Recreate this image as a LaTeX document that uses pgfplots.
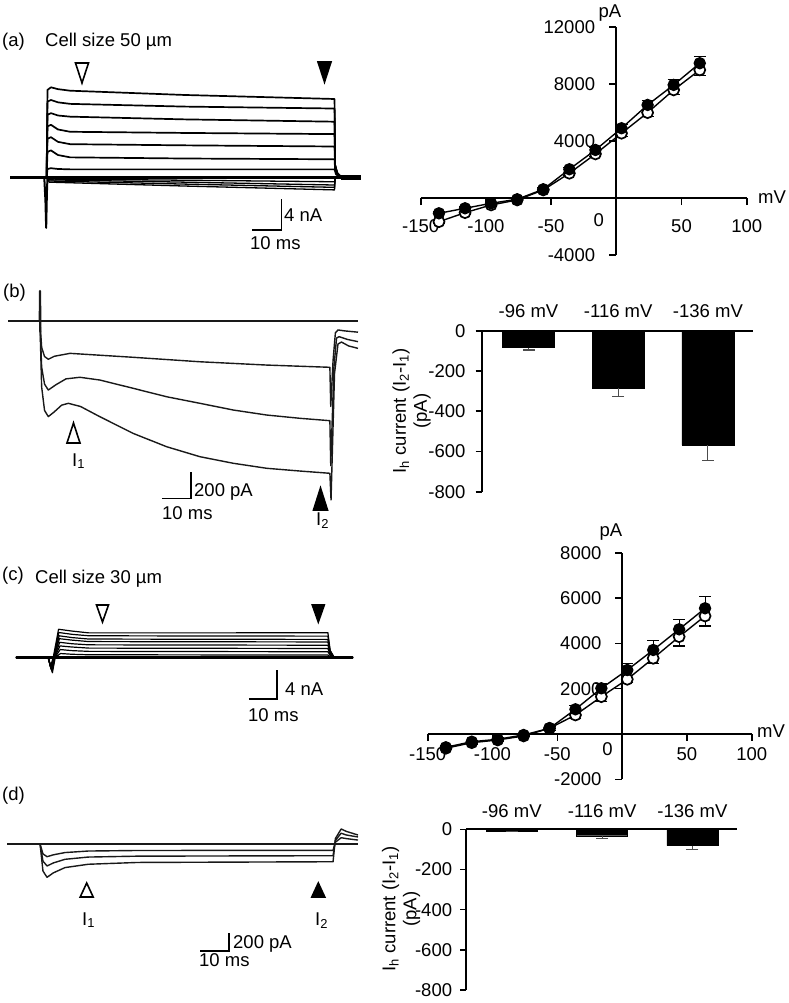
\documentclass[border=0pt]{standalone}
\usepackage{fontspec}
\setmainfont{Liberation Sans}
\usepackage{pgfplots}
\pgfplotsset{compat=1.18}
\newcommand{\fs}{\fontsize{18.5}{21}\selectfont}
\pgfplotsset{
  trc/.style={hide axis, scale only axis, clip=false, anchor=south west},
  tr/.style={black, line width=1.7pt, no markers, line join=round},
  trb/.style={black!90, line width=1.4pt, no markers, line join=round},
  sbar/.style={black, line width=1.5pt, no markers},
  iv/.style={scale only axis, clip=false, anchor=south west,
    axis lines=middle, axis line style={-, line width=1.8pt},
    tick style={black, line width=1.6pt}, tick align=outside, major tick length=7pt,
    xmin=-150, xmax=100, scaled ticks=false,
    xtick={-150,-100,-50,50,100}, xticklabels={-150,-100,-50,50,100},
    tick label style={font=\fs},
  },
  ivopen/.style={black, line width=1.4pt, mark=*, mark size=5.5pt,
    mark options={fill=white, draw=black, line width=1.7pt},
    error bars/.cd, y dir=minus, y explicit,
    error bar style={line width=1.1pt},
    error mark options={rotate=90, mark size=6pt, line width=1.1pt}},
  ivfill/.style={black, line width=1.4pt, mark=*, mark size=5.5pt,
    mark options={fill=black, draw=black},
    error bars/.cd, y dir=plus, y explicit,
    error bar style={line width=1.1pt},
    error mark options={rotate=90, mark size=6pt, line width=1.1pt}},
  bars/.style={scale only axis, clip=false, anchor=south west,
    axis x line=top, axis y line=left, axis line style={-, line width=1.8pt},
    ymin=-800, ymax=0, scaled ticks=false,
    xtick={1,2,3}, xticklabels={-96 mV,-116 mV,-136 mV},
    xtick style={draw=none},
    ytick={-800,-600,-400,-200,0}, yticklabels={-800,-600,-400,-200,0},
    tick style={black, line width=1.6pt}, tick align=outside, major tick length=6pt,
    tick label style={font=\fs}, ybar},
  hbar/.style={fill=black, draw=black,
    error bars/.cd, y dir=minus, y explicit,
    error bar style={line width=1.1pt, black!70},
    error mark options={rotate=90, mark size=6pt, line width=1.1pt, black!70}},
}
\begin{document}
\begin{tikzpicture}[font=\fs]
\path[use as bounding box] (0,0) rectangle (788pt,-1003pt);

% ---------- (a) traces, large cell ----------
\begin{axis}[trc, at={(10pt,-231.75pt)}, width=350.7pt, height=147.25pt,
  xmin=0, xmax=120.7, ymin=-7, ymax=12]
\addplot[tr] coordinates {(0,0)(12.6,0)(12.9,11.3)(14.1,11.64)(16.5,11.4)(20.7,11.2)(60,10.65)(111.7,10.13)(111.9,1.6)(112.6,0.6)(113.6,0.2)(114.8,0)(120.7,0)};
\addplot[tr] coordinates {(0,0)(12.6,0)(12.9,9.8)(14.1,10.0)(16.5,9.7)(20.7,9.5)(60,9.15)(111.7,8.9)(111.9,1.6)(112.6,0.6)(113.6,0.2)(114.8,0)(120.7,0)};
\addplot[tr] coordinates {(0,0)(12.6,0)(12.9,8.1)(14.1,8.3)(16.5,8.0)(20.7,7.85)(60,7.5)(111.7,7.2)(111.9,1.5)(112.6,0.6)(113.6,0.2)(114.8,0)(120.7,0)};
\addplot[tr] coordinates {(0,0)(12.6,0)(12.9,6.6)(14.1,6.8)(16.5,6.2)(20.7,5.9)(60,5.75)(111.7,5.6)(111.9,1.4)(112.6,0.5)(113.6,0.2)(114.8,0)(120.7,0)};
\addplot[tr] coordinates {(0,0)(12.6,0)(12.9,5.0)(14.1,5.2)(16.5,4.6)(20.7,4.3)(60,4.15)(111.7,4.0)(111.9,1.3)(112.6,0.5)(113.6,0.2)(114.8,0)(120.7,0)};
\addplot[tr] coordinates {(0,0)(12.6,0)(12.9,3.3)(14.1,3.5)(16.5,2.9)(20.7,2.6)(60,2.45)(111.7,2.35)(111.9,1.0)(112.6,0.4)(113.6,0.1)(114.8,0)(120.7,0)};
\addplot[tr] coordinates {(0,0)(12.6,0)(12.9,1.1)(14.1,1.2)(16.5,1.1)(20.7,1.05)(60,1.05)(111.7,1.05)(112.2,0.4)(113.6,0.1)(114.8,0)(120.7,0)};
\addplot[tr, line width=1.3pt] coordinates {(0,0)(12.6,0)(13.5,-0.2)(60,-0.35)(111.7,-0.55)(111.9,0)(120.7,0)};
\addplot[tr, line width=1.3pt] coordinates {(0,0)(12.6,0)(13.5,-0.3)(60,-0.6)(111.7,-0.97)(111.9,0)(120.7,0)};
\addplot[tr, line width=1.3pt] coordinates {(0,0)(12.6,0)(13.5,-0.45)(60,-0.85)(111.7,-1.27)(111.9,0)(120.7,0)};
\addplot[tr, line width=1.3pt] coordinates {(0,0)(12.6,0)(13.5,-0.6)(60,-1.1)(111.7,-1.6)(111.9,0)(120.7,0)};
\addplot[tr, line width=2pt] coordinates {(11.8,0)(12.2,-3)(12.45,-6.5)(12.7,-2)(12.9,0)};
\addplot[tr, line width=2.6pt] coordinates {(0,0)(120.7,0)};
\addplot[tr, line width=4.5pt, line cap=butt] coordinates {(114,0)(120.7,0)};
% scale bar: 10 ms, 4 nA
\addplot[sbar] coordinates {(83.4,-6.77)(93.4,-6.77)(93.4,-2.77)};
\end{axis}

% ---------- (b) Ih traces, large cell ----------
\begin{axis}[trc, at={(8pt,-505.1pt)}, width=350pt, height=223.55pt,
  xmin=0, xmax=120.7, ymin=-1400, ymax=300]
\addplot[trb, line width=2.4pt] coordinates {(0,0)(11,0)};
\addplot[trb] coordinates {(0,0)(120.7,0)};
\addplot[trb, line width=2.2pt] coordinates {(10.95,0)(11.05,228)(11.15,-80)};
\addplot[trb] coordinates {(0,0)(11,0)(11.6,-200)(12.6,-270)(13.9,-291)(16,-268)(21.4,-246)(43.2,-276)(66.2,-310)(89.2,-335)(111,-352)(111.3,-650)(112.1,-300)(112.9,-90)(113.8,-68)(116,-75)(120.7,-85)};
\addplot[trb] coordinates {(0,0)(11,0)(11.6,-350)(12.6,-480)(13.9,-525)(16.5,-485)(20,-440)(24.8,-428)(31.7,-449)(43.2,-512)(54.7,-576)(66.2,-626)(77.7,-677)(89.2,-715)(100.7,-740)(111,-758)(111.3,-1100)(112.4,-350)(113.3,-130)(114.2,-119)(117,-140)(120.7,-157)};
\addplot[trb] coordinates {(0,0)(11,0)(11.6,-500)(12.6,-680)(13.9,-727)(16,-690)(18.5,-640)(20.8,-626)(25,-650)(31.7,-728)(43.2,-855)(54.7,-956)(66.2,-1032)(77.7,-1082)(89.2,-1120)(100.7,-1141)(111,-1158)(111.4,-1361)(112.6,-400)(113.8,-175)(115,-160)(117.5,-190)(120.7,-208)};
% scale bar: 10 ms, 200 pA
\addplot[sbar] coordinates {(53.1,-1348)(63.1,-1348)(63.1,-1148)};
\end{axis}

% ---------- (c) traces, small cell ----------
\begin{axis}[trc, at={(16pt,-701pt)}, width=337.1pt, height=76.1pt,
  xmin=0, xmax=120.4, ymin=-6, ymax=4.5]
\addplot[tr, line width=1.2pt] coordinates {(0,0)(11.5,0)(12.3,-1.3)(13.3,0)(15.2,3.9)(20,3.65)(26,3.4)(70,3.4)(111.4,3.42)(112.2,1.0)(113.5,0.1)(115,0)(120.4,0)};
\addplot[tr, line width=1.2pt] coordinates {(0,0)(11.5,0)(12.4,-1.4)(13.4,0)(15.3,3.45)(20,3.2)(26,3.0)(70,2.97)(111.4,2.95)(112.2,0.9)(113.5,0.1)(115,0)(120.4,0)};
\addplot[tr, line width=1.2pt] coordinates {(0,0)(11.5,0)(12.5,-1.5)(13.5,0)(15.4,3.0)(20,2.75)(26,2.55)(70,2.52)(111.4,2.5)(112.2,0.8)(113.5,0.1)(115,0)(120.4,0)};
\addplot[tr, line width=1.2pt] coordinates {(0,0)(11.5,0)(12.6,-1.6)(13.6,0)(15.5,2.6)(20,2.4)(26,2.2)(70,2.17)(111.4,2.15)(112.2,0.7)(113.5,0.1)(115,0)(120.4,0)};
\addplot[tr, line width=1.2pt] coordinates {(0,0)(11.5,0)(12.7,-1.7)(13.7,0)(15.6,2.1)(20,1.9)(26,1.75)(70,1.72)(111.4,1.7)(112.2,0.6)(113.5,0.1)(115,0)(120.4,0)};
\addplot[tr, line width=1.2pt] coordinates {(0,0)(11.5,0)(12.8,-1.8)(13.8,0)(15.7,1.6)(20,1.45)(26,1.3)(70,1.27)(111.4,1.25)(112.2,0.4)(113.5,0.1)(115,0)(120.4,0)};
\addplot[tr, line width=1.2pt] coordinates {(0,0)(11.5,0)(12.9,-1.9)(13.9,0)(15.8,1.1)(20,0.95)(26,0.85)(70,0.82)(111.4,0.8)(112.2,0.3)(113.5,0.05)(115,0)(120.4,0)};
\addplot[tr, line width=1.2pt] coordinates {(0,0)(11.5,0)(13.0,-2.1)(14.0,0)(15.9,0.55)(20,0.45)(26,0.38)(70,0.36)(111.4,0.35)(112.2,0.1)(113.5,0)(120.4,0)};
\addplot[tr, line width=2.6pt] coordinates {(0,0)(120.4,0)};
% scale bar: 10 ms, 4 nA
\addplot[sbar] coordinates {(83.2,-5.72)(93.2,-5.72)(93.2,-1.72)};
\end{axis}

% ---------- (d) Ih traces, small cell ----------
\begin{axis}[trc, at={(7pt,-956.5pt)}, width=351pt, height=130.5pt,
  xmin=0, xmax=121, ymin=-1250, ymax=200]
\addplot[trb, line width=2.2pt] coordinates {(0,0)(11.4,0)};
\addplot[trb] coordinates {(0,0)(121,0)};
\addplot[trb] coordinates {(0,0)(11.4,0)(12.4,-110)(13.8,-141)(16,-120)(20,-95)(28,-78)(45,-72)(112.4,-70)(113.2,20)(115.2,70)(117,60)(121,44)};
\addplot[trb] coordinates {(0,0)(11.4,0)(12.4,-190)(13.8,-244)(16,-210)(20,-170)(28,-145)(45,-135)(112.4,-130)(113.2,40)(115.2,120)(117,100)(121,78)};
\addplot[trb] coordinates {(0,0)(11.4,0)(12.4,-300)(13.8,-370)(16,-320)(20,-262)(28,-225)(45,-205)(112.4,-197)(113.2,60)(115.2,167)(117,140)(121,100)};
% scale bar: 10 ms, 200 pA
\addplot[sbar] coordinates {(66.6,-1189)(76.6,-1189)(76.6,-989)};
\end{axis}

% ---------- (a) I-V, large cell ----------
\begin{axis}[iv, at={(420.7pt,-255pt)}, width=326pt, height=227.7pt,
  ymin=-4000, ymax=12000,
  ytick={-4000,4000,8000,12000}, yticklabels={-4000,4000,8000,12000},
  xticklabel style={anchor=base, inner sep=0pt, yshift=-27.7pt},
  yticklabel style={anchor=east, inner sep=0pt, xshift=-14pt}]
\addplot[ivopen] coordinates {
  (-136,-1659) +- (0,120) (-116,-1026) +- (0,100) (-96,-485) +- (0,80)
  (-76,-134) +- (0,60) (-56,569) +- (0,100) (-36,1743) +- (0,150)
  (-16,3100) +- (0,200) (4,4555) +- (0,250) (24,6003) +- (0,300)
  (44,7599) +- (0,330) (64,9005) +- (0,400)};
\addplot[ivfill] coordinates {
  (-136,-1069) +- (0,100) (-116,-717) +- (0,100) (-96,-366) +- (0,80)
  (-76,-84) +- (0,60) (-56,619) +- (0,100) (-36,2025) +- (0,150)
  (-16,3381) +- (0,200) (4,4907) +- (0,250) (24,6545) +- (0,300)
  (44,7951) +- (0,350) (64,9476) +- (0,470)};
\end{axis}

% ---------- (b) Ih bars, large cell ----------
\begin{axis}[bars, at={(481.7pt,-491.7pt)}, width=271.6pt, height=161pt,
  xmin=0.478, xmax=3.506, bar width=52pt,
  xticklabel style={anchor=base, inner sep=0pt, yshift=7.4pt},
  yticklabel style={anchor=east, inner sep=0pt, xshift=-10pt}]
\addplot[hbar] coordinates {(1,-84) +- (0,12) (2,-286) +- (0,42) (3,-568) +- (0,75)};
\end{axis}

% ---------- (c) I-V, small cell ----------
\begin{axis}[iv, at={(427.7pt,-779.3pt)}, width=324pt, height=226.6pt,
  ymin=-2000, ymax=8000,
  ytick={-2000,2000,4000,6000,8000}, yticklabels={-2000,2000,4000,6000,8000},
  xticklabel style={anchor=base, inner sep=0pt, yshift=-20pt},
  yticklabel style={anchor=east, inner sep=0pt, xshift=-13.5pt}]
\addplot[ivopen] coordinates {
  (-136,-631) +- (0,60) (-116,-384) +- (0,60) (-96,-265) +- (0,60)
  (-76,-88) +- (0,40) (-56,252) +- (0,80) (-36,838) +- (0,150)
  (-16,1646) +- (0,200) (4,2414) +- (0,150) (24,3341) +- (0,250)
  (44,4294) +- (0,410) (64,5207) +- (0,440)};
\addplot[ivfill] coordinates {
  (-136,-587) +- (0,60) (-116,-340) +- (0,60) (-96,-234) +- (0,60)
  (-76,-44) +- (0,40) (-56,252) +- (0,80) (-36,1090) +- (0,150)
  (-16,2017) +- (0,200) (4,2824) +- (0,300) (24,3707) +- (0,400)
  (44,4620) +- (0,440) (64,5547) +- (0,540)};
\end{axis}

% ---------- (d) Ih bars, small cell ----------
\begin{axis}[bars, at={(466pt,-990pt)}, width=270.7pt, height=160.7pt,
  xmin=0.493, xmax=3.49, bar width=51pt,
  xticklabel style={anchor=base, inner sep=0pt, yshift=6pt},
  yticklabel style={anchor=east, inner sep=0pt, xshift=-7.7pt}]
\addplot[hbar] coordinates {(1,-10) +- (0,0) (2,-32) +- (0,13) (3,-81) +- (0,18)};
\end{axis}

% ---------- labels and markers, in picture pixels ----------
\begin{scope}[x=1pt, y=-1pt, inner sep=0pt]
% panel letters and titles
\node[anchor=base west] at (2,47) {(a)};
\node[anchor=base west] at (45,46.7) {Cell size 50 µm};
\node[anchor=base west] at (3,297) {(b)};
\node[anchor=base west] at (2,580) {(c)};
\node[anchor=base west] at (35,583) {Cell size 30 µm};
\node[anchor=base west] at (2,800) {(d)};
% scale bar texts
\node[anchor=base west] at (284,221.7) {4 nA};
\node[anchor=base west] at (250,249) {10 ms};
\node[anchor=base west] at (194,496.7) {200 pA};
\node[anchor=base west] at (162,519) {10 ms};
\node[anchor=base west] at (285,695) {4 nA};
\node[anchor=base west] at (248,721) {10 ms};
\node[anchor=base west] at (233,948.3) {200 pA};
\node[anchor=base west] at (199,966) {10 ms};
% I1 / I2
\node[anchor=base west] at (72,466) {I\textsubscript{1}};
\node[anchor=base west] at (316,525) {I\textsubscript{2}};
\node[anchor=base west] at (82,925) {I\textsubscript{1}};
\node[anchor=base west] at (315,925) {I\textsubscript{2}};
% triangles
\draw[line width=1.6pt, fill=white] (75.5,63) -- (88.5,63) -- (82,83) -- cycle;
\draw[line width=1.6pt, fill=black] (318,62) -- (331,62) -- (324.5,82) -- cycle;
\draw[line width=1.6pt, fill=white] (67,443) -- (80,443) -- (73.5,423) -- cycle;
\draw[line width=1.6pt, fill=black] (313.5,510) -- (327.5,510) -- (320.5,488) -- cycle;
\draw[line width=1.6pt, fill=white] (96.5,605) -- (108.5,605) -- (102.5,622) -- cycle;
\draw[line width=1.6pt, fill=black] (312.3,605) -- (324.3,605) -- (318.3,622) -- cycle;
\draw[line width=1.6pt, fill=white] (80.2,897) -- (93.2,897) -- (86.7,883) -- cycle;
\draw[line width=1.6pt, fill=black] (311.8,897) -- (324.8,897) -- (318.3,883) -- cycle;
% I-V axis names and the 0 on the voltage axis
\node[anchor=base] at (610,18) {pA};
\node[anchor=base west] at (758,204) {mV};
\node[anchor=base] at (598.7,226.7) {0};
\node[anchor=base] at (611,536) {pA};
\node[anchor=base west] at (757,737) {mV};
\node[anchor=base] at (607.5,755) {0};
% bar chart axis names
\node[rotate=90, align=center] at (411.5,411) {I\textsubscript{h} current (I\textsubscript{2}-I\textsubscript{1})\\(pA)};
\node[rotate=90, align=center] at (401,909) {I\textsubscript{h} current (I\textsubscript{2}-I\textsubscript{1})\\(pA)};
\end{scope}
\end{tikzpicture}
\end{document}
